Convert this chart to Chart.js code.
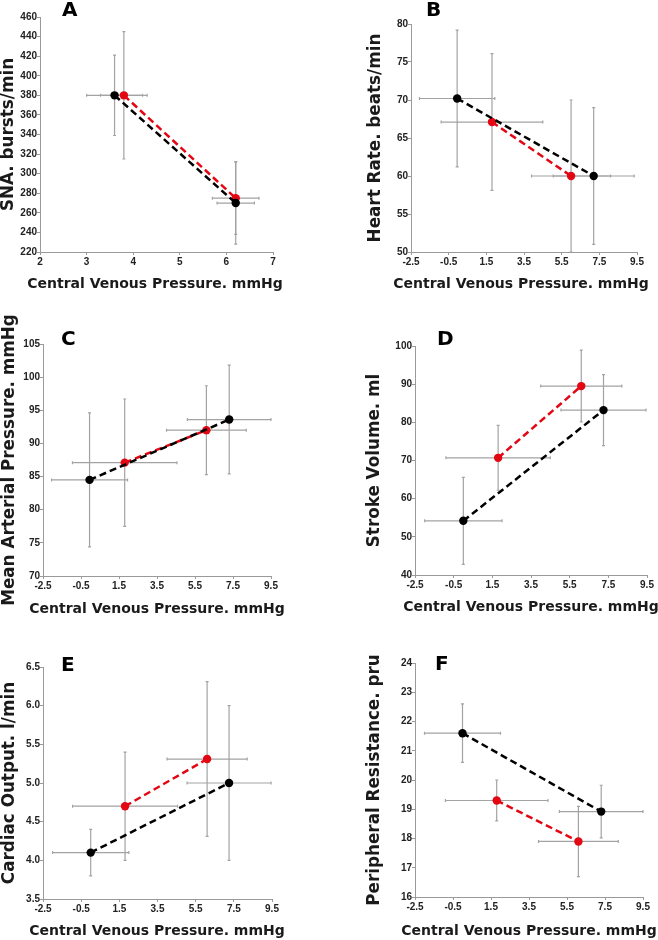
<!DOCTYPE html>
<html>
<head>
<meta charset="utf-8">
<script src="https://cdn.jsdelivr.net/npm/chart.js@4/dist/chart.umd.min.js"></script>
<style>
  html, body { margin: 0; padding: 0; background: #fff; }
  #wrap { position: relative; width: 658px; height: 940px; overflow: hidden; }
  #wrap canvas { position: absolute; }
  .letter { position: absolute; font: bold 20px "DejaVu Sans", sans-serif; line-height: 20px; color: #000; }
  .xtitle { position: absolute; width: 400px; text-align: center; white-space: nowrap;
            font: bold 14px "DejaVu Sans", sans-serif; line-height: 16px; color: #1a1a1a; }
</style>
</head>
<body>
<div id="wrap"></div>
<script>
// ---- data ----
const panelLetters = ['A', 'B', 'C', 'D', 'E', 'F'];
const yTitles = ['SNA. bursts/min', 'Heart Rate. beats/min', 'Mean Arterial Pressure. mmHg',
  'Stroke Volume. ml', 'Cardiac Output. l/min', 'Peripheral Resistance. pru'];
const xTitle = 'Central Venous Pressure. mmHg';

const xMin = [2, -2.5, -2.5, -2.5, -2.5, -2.5];
const xMax = [7, 9.5, 9.5, 9.5, 9.5, 9.5];
const xStep = [1, 2, 2, 2, 2, 2];
const xDecimals = [0, 1, 1, 1, 1, 1];
const yMin = [220, 50, 70, 40, 3.5, 16];
const yMax = [460, 80, 105, 100, 6.5, 24];
const yStep = [20, 5, 5, 10, 0.5, 1];
const yDecimals = [0, 0, 0, 0, 1, 0];

// black series: CVP (x) with SD, variable (y) with SD
const blackCvp = [[3.6, 6.2], [-0.05, 7.2], [-0.05, 7.3], [0.0, 7.25], [0.0, 7.25], [0.0, 7.3]];
const blackCvpSd = [[0.6, 0.4], [2.0, 2.15], [2.0, 2.2], [2.0, 2.2], [2.0, 2.2], [2.0, 2.2]];
const blackVal = [[380, 270], [70.2, 60.0], [84.5, 93.6], [54.2, 83.2], [4.1, 5.0], [21.6, 18.92]];
const blackValSd = [[41, 42], [9, 9], [10.1, 8.2], [11.4, 9.3], [0.3, 1.0], [1.0, 0.9]];

// red series
const redCvp = [[3.8, 6.2], [1.8, 6.0], [1.8, 6.1], [1.8, 6.1], [1.8, 6.1], [1.8, 6.1]];
const redCvpSd = [[0.5, 0.5], [2.7, 2.1], [2.75, 2.1], [2.7, 2.1], [2.75, 2.1], [2.7, 2.1]];
const redVal = [[380, 275], [67.1, 60.0], [87.1, 92.0], [70.7, 89.5], [4.7, 5.31], [19.3, 17.9]];
const redValSd = [[65, 37], [9, 10], [9.6, 6.7], [8.5, 9.4], [0.7, 1.0], [0.7, 1.2]];

// ---- page layout (plot boxes in page px) ----
const cellX = [0, 329, 0, 329, 0, 329];
const cellY = [0, 0, 300, 300, 620, 620];
const cellW = 329;
const cellH = [300, 300, 320, 320, 320, 320];
const plotL = [40, 411, 43, 415, 43, 415];
const plotT = [17, 24, 344, 346, 667, 663];
const plotR = [273, 637, 271, 647, 272, 643];
const plotB = [252, 252, 576, 575, 899, 897];
const yTitleX = [9, 376, 10, 375, 10, 375];
const xTitleY = [283, 283, 608, 606, 930, 930];
const xTitleX = [155, 521, 157, 531, 157, 529];
const letterX = [62, 426, 61, 437, 61, 435];
const letterY = [-1, -1, 328, 328, 654, 653];

const FONT = '"DejaVu Sans", sans-serif';
const Y_TITLE_SIZE = 16.8;
const TICK_FONT = { family: '"Liberation Sans Narrow", "Liberation Sans", Arial, sans-serif', size: 10, weight: 'bold' };
const AXIS_GREY = '#9a9a9a';

const errorBars = {
  id: 'errorBars',
  beforeDatasetsDraw(chart) {
    const { ctx, scales: { x, y } } = chart;
    ctx.save();
    ctx.strokeStyle = '#a3a3a3';
    ctx.lineWidth = 1.2;
    chart.data.datasets.forEach(ds => {
      ds.data.forEach(p => {
        const px = x.getPixelForValue(p.x), py = y.getPixelForValue(p.y);
        const x0 = x.getPixelForValue(p.x - p.xSd), x1 = x.getPixelForValue(p.x + p.xSd);
        const y0 = y.getPixelForValue(p.y - p.ySd), y1 = y.getPixelForValue(p.y + p.ySd);
        ctx.beginPath();
        ctx.moveTo(x0, py); ctx.lineTo(x1, py);
        ctx.moveTo(px, y0); ctx.lineTo(px, y1);
        // tiny caps
        ctx.moveTo(x0, py - 1.5); ctx.lineTo(x0, py + 1.5);
        ctx.moveTo(x1, py - 1.5); ctx.lineTo(x1, py + 1.5);
        ctx.moveTo(px - 1.5, y0); ctx.lineTo(px + 1.5, y0);
        ctx.moveTo(px - 1.5, y1); ctx.lineTo(px + 1.5, y1);
        ctx.stroke();
      });
    });
    ctx.restore();
  }
};

function points(cvp, cvpSd, val, valSd) {
  return cvp.map((c, i) => ({ x: c, y: val[i], xSd: cvpSd[i], ySd: valSd[i] }));
}

function makePanel(i) {
  const wrap = document.getElementById('wrap');
  const canvas = document.createElement('canvas');
  canvas.width = cellW; canvas.height = cellH[i];
  canvas.style.left = cellX[i] + 'px'; canvas.style.top = cellY[i] + 'px';
  canvas.style.width = cellW + 'px'; canvas.style.height = cellH[i] + 'px';
  wrap.appendChild(canvas);

  const letter = document.createElement('div');
  letter.className = 'letter';
  letter.textContent = panelLetters[i];
  letter.style.left = letterX[i] + 'px'; letter.style.top = letterY[i] + 'px';
  wrap.appendChild(letter);

  // x title as html text (chart.js would squeeze it to the plot width)
  const xt = document.createElement('div');
  xt.className = 'xtitle';
  xt.textContent = xTitle;
  xt.style.left = (xTitleX[i] - 200) + 'px';
  xt.style.top = (xTitleY[i] - 8) + 'px';
  wrap.appendChild(xt);

  const yW = plotL[i] - cellX[i];
  const xH = cellY[i] + cellH[i] - plotB[i];

  new Chart(canvas.getContext('2d'), {
    type: 'scatter',
    data: {
      datasets: [
        {
          data: points(blackCvp[i], blackCvpSd[i], blackVal[i], blackValSd[i]),
          showLine: true, borderColor: '#000', borderWidth: 2.5, borderDash: [7, 4],
          pointRadius: 4.2, pointBackgroundColor: '#000', pointBorderColor: '#000', pointBorderWidth: 0
        },
        {
          data: points(redCvp[i], redCvpSd[i], redVal[i], redValSd[i]),
          showLine: true, borderColor: '#e30613', borderWidth: 2.5, borderDash: [7, 4],
          pointRadius: 4.2, pointBackgroundColor: '#e30613', pointBorderColor: '#e30613', pointBorderWidth: 0
        }
      ]
    },
    options: {
      responsive: false,
      animation: false,
      clip: false,
      layout: { padding: { left: 0, bottom: 0, top: plotT[i] - cellY[i], right: cellX[i] + cellW - plotR[i] } },
      plugins: { legend: { display: false }, tooltip: { enabled: false } },
      scales: {
        x: {
          type: 'linear', min: xMin[i], max: xMax[i],
          grid: { drawOnChartArea: false, drawTicks: true, tickLength: 3, color: AXIS_GREY },
          border: { color: AXIS_GREY, width: 1 },
          ticks: {
            stepSize: xStep[i], padding: 1, color: '#222', font: TICK_FONT, maxRotation: 0, autoSkip: false,
            callback: v => Number(v).toFixed(xDecimals[i])
          },
          title: { display: false },
          afterFit(s) { s.height = xH; s.paddingLeft = 0; s.paddingRight = 0; }
        },
        y: {
          type: 'linear', min: yMin[i], max: yMax[i],
          grid: { drawOnChartArea: false, drawTicks: true, tickLength: 3, color: AXIS_GREY },
          border: { color: AXIS_GREY, width: 1 },
          ticks: {
            stepSize: yStep[i], padding: 0, color: '#222', font: TICK_FONT, autoSkip: false,
            callback: v => Number(v).toFixed(yDecimals[i])
          },
          title: {
            display: true, text: yTitles[i], color: '#1a1a1a',
            font: { family: FONT, size: Y_TITLE_SIZE, weight: 'bold', lineHeight: 1 },
            padding: { top: yTitleX[i] - cellX[i] - Y_TITLE_SIZE / 2, bottom: 0 }
          },
          afterFit(s) { s.width = yW; s.paddingTop = 0; s.paddingBottom = 0; }
        }
      }
    },
    plugins: [errorBars]
  });
}

panelLetters.forEach((_, i) => makePanel(i));
</script>
</body>
</html>
